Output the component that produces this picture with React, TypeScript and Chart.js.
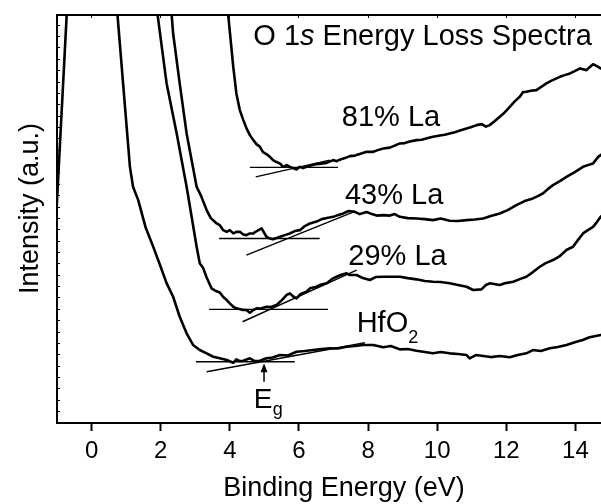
import React, { useEffect, useRef } from "react";
import { Chart, registerables } from "chart.js";

Chart.register(...registerables);

const FONT = '"Liberation Sans", Arial, Helvetica, sans-serif';

// ---- axes ----
const X_MIN = -1;
const X_MAX = 15;
const Y_MIN = 0;
const Y_MAX = 35.9;
const xTickValues = [0, 2, 4, 6, 8, 10, 12, 14];
const yTickValues = [0, 1, 2, 3, 4, 5, 6, 7, 8, 9, 10, 11, 12, 13, 14, 15, 16, 17, 18, 19, 20, 21, 22, 23, 24, 25, 26, 27, 28, 29, 30, 31, 32, 33, 34, 35];

// ---- spectra (binding energy eV, intensity a.u.) ----
const hfo2Energy = [-1.05, -0.7, -0.4, 0.0, 0.4, 0.68, 1.11, 1.2, 1.35, 1.57, 1.78, 1.98, 2.17, 2.36, 2.55, 2.75, 2.94, 3.13, 3.33, 3.52, 3.71, 3.91, 4.1, 4.19, 4.29, 4.39, 4.58, 4.72, 4.87, 5.06, 5.24, 5.45, 5.68, 5.93, 6.17, 6.41, 6.66, 6.89, 7.12, 7.38, 7.62, 7.86, 8.15, 8.44, 8.66, 8.92, 9.15, 9.4, 9.64, 9.88, 10.1, 10.36, 10.6, 10.85, 10.94, 11.12, 11.33, 11.55, 11.81, 12.1, 12.33, 12.58, 12.77, 13.0, 13.26, 13.49, 13.74, 14.03, 14.21, 14.41, 14.73, 15.0];
const hfo2Intensity = [16.61, 37.06, 60, 80, 60, 38.5, 22.54, 20.78, 19.61, 17.15, 15.54, 13.9, 12.31, 11.11, 9.35, 7.89, 6.86, 6.42, 6.13, 5.83, 5.69, 5.54, 5.3, 5.6, 5.45, 5.48, 5.69, 5.45, 5.48, 5.69, 5.76, 5.98, 5.94, 6.27, 6.33, 6.42, 6.51, 6.57, 6.55, 6.71, 6.77, 6.86, 6.86, 6.66, 6.77, 6.48, 6.51, 6.36, 6.24, 6.13, 6.24, 6.13, 6.07, 5.98, 5.69, 5.98, 5.89, 5.8, 5.89, 5.78, 5.98, 6.13, 6.42, 6.33, 6.57, 6.68, 6.86, 7.15, 7.3, 7.54, 7.74, 7.9];

const la29Energy = [1.7, 1.8, 1.98, 2.17, 2.46, 2.75, 3.04, 3.13, 3.23, 3.33, 3.47, 3.6, 3.71, 3.81, 3.91, 4.0, 4.1, 4.19, 4.39, 4.48, 4.58, 4.68, 4.77, 4.9, 5.06, 5.19, 5.35, 5.48, 5.64, 5.74, 5.82, 5.93, 6.05, 6.22, 6.32, 6.51, 6.6, 6.8, 6.99, 7.09, 7.21, 7.38, 7.47, 7.67, 7.85, 8.05, 8.22, 8.44, 8.63, 8.92, 9.15, 9.4, 9.64, 9.88, 10.1, 10.36, 10.6, 10.85, 11.04, 11.28, 11.41, 11.52, 11.81, 11.98, 12.2, 12.39, 12.58, 12.77, 12.97, 13.14, 13.35, 13.55, 13.74, 13.93, 14.07, 14.22, 14.36, 14.51, 14.62, 14.73, 15.0];
const la29Intensity = [45, 38.5, 34.3, 29.9, 25.51, 20.78, 15.51, 14.05, 13.63, 12.8, 11.85, 11.61, 11.48, 11.08, 10.82, 10.53, 10.23, 10.09, 9.94, 9.94, 9.7, 9.94, 10.09, 10.07, 10.23, 10.2, 10.38, 10.73, 11.26, 11.41, 11.17, 10.97, 11.35, 11.55, 11.85, 11.99, 12.14, 12.29, 12.73, 12.87, 13.02, 13.17, 13.02, 13.02, 12.75, 12.58, 12.84, 12.87, 12.87, 12.87, 12.75, 12.64, 12.49, 12.43, 12.4, 12.29, 12.14, 11.99, 11.7, 11.76, 12.14, 12.29, 12.14, 12.31, 12.43, 12.66, 12.87, 13.28, 13.75, 14.07, 14.34, 14.69, 15.22, 15.51, 16.09, 16.68, 16.97, 17.26, 17.68, 18.14, 19.0];

const la43Energy = [2.2, 2.25, 2.36, 2.55, 2.75, 3.04, 3.16, 3.33, 3.45, 3.62, 3.71, 3.81, 3.91, 4.0, 4.1, 4.19, 4.29, 4.39, 4.48, 4.58, 4.68, 4.78, 4.92, 5.06, 5.16, 5.25, 5.35, 5.45, 5.59, 5.74, 5.88, 6.03, 6.17, 6.32, 6.51, 6.66, 6.81, 6.99, 7.12, 7.28, 7.44, 7.62, 7.76, 7.96, 8.11, 8.25, 8.44, 8.63, 8.77, 8.92, 9.15, 9.4, 9.64, 9.88, 10.1, 10.36, 10.6, 10.85, 11.09, 11.33, 11.55, 11.81, 12.04, 12.29, 12.53, 12.77, 12.91, 13.06, 13.2, 13.35, 13.55, 13.74, 13.98, 14.22, 14.36, 14.51, 14.66, 14.73, 15.0];
const la43Intensity = [42, 38.5, 34.27, 29.88, 25.48, 20.78, 20.05, 18.73, 18.03, 17.56, 17.41, 16.97, 16.82, 16.97, 16.68, 16.82, 16.82, 16.58, 16.53, 16.68, 16.68, 16.89, 17.12, 16.39, 16.23, 16.16, 16.27, 16.39, 16.53, 16.68, 16.89, 16.97, 17.33, 17.56, 17.72, 17.94, 18.03, 18.14, 18.29, 18.44, 18.65, 18.58, 18.38, 18.56, 18.38, 18.25, 18.29, 18.25, 18.38, 18.14, 18.03, 18.0, 17.94, 17.85, 17.99, 17.79, 17.77, 17.85, 17.9, 18.0, 18.21, 18.44, 18.73, 19.17, 19.53, 19.76, 19.96, 20.2, 20.58, 20.93, 21.28, 21.66, 22.08, 22.54, 22.69, 22.84, 23.42, 23.57, 24.3];

const la81Energy = [3.8, 3.87, 4.1, 4.19, 4.29, 4.39, 4.48, 4.58, 4.68, 4.77, 4.87, 4.96, 5.06, 5.16, 5.25, 5.35, 5.45, 5.54, 5.65, 5.74, 5.83, 5.93, 6.03, 6.12, 6.22, 6.34, 6.51, 6.63, 6.8, 6.99, 7.1, 7.18, 7.33, 7.47, 7.62, 7.76, 7.96, 8.15, 8.28, 8.44, 8.63, 8.77, 8.92, 9.06, 9.21, 9.4, 9.55, 9.73, 9.88, 10.08, 10.22, 10.36, 10.51, 10.66, 10.85, 10.97, 11.14, 11.29, 11.41, 11.52, 11.66, 11.81, 11.96, 12.1, 12.25, 12.39, 12.48, 12.58, 12.71, 12.87, 13.0, 13.16, 13.34, 13.55, 13.69, 13.84, 13.98, 14.13, 14.32, 14.41, 14.51, 14.62, 14.73, 15.0];
const la81Intensity = [42, 38.5, 31.34, 29.0, 27.53, 26.65, 25.95, 25.33, 24.89, 24.54, 24.3, 23.83, 23.66, 23.42, 23.13, 22.96, 22.84, 22.54, 22.69, 22.54, 22.43, 22.31, 22.54, 22.43, 22.54, 22.65, 22.78, 22.82, 22.89, 23.13, 23.04, 23.17, 23.31, 23.48, 23.53, 23.66, 23.86, 23.86, 24.01, 24.16, 24.23, 24.41, 24.6, 24.63, 24.76, 24.89, 24.93, 25.07, 25.18, 25.29, 25.37, 25.48, 25.59, 25.73, 25.92, 26.03, 26.21, 26.3, 26.08, 26.21, 26.56, 26.94, 27.35, 27.82, 28.32, 28.7, 29.11, 29.14, 29.24, 29.29, 29.55, 29.88, 30.17, 30.46, 30.61, 30.76, 30.96, 31.2, 31.05, 31.31, 31.57, 31.4, 31.2, 31.5];

// ---- band-gap construction lines (baseline + onset tangent) ----
const hfo2BaseX = [3.02, 5.88];
const hfo2BaseY = [5.39, 5.39];
const hfo2TanX = [3.33, 7.91];
const hfo2TanY = [4.51, 7.06];
const la29BaseX = [3.4, 6.84];
const la29BaseY = [10.0, 10.0];
const la29TanX = [4.37, 7.67];
const la29TanY = [8.91, 13.46];
const la43BaseX = [3.69, 6.6];
const la43BaseY = [16.24, 16.24];
const la43TanX = [4.48, 7.62];
const la43TanY = [14.78, 18.62];
const la81BaseX = [4.58, 7.13];
const la81BaseY = [22.49, 22.49];
const la81TanX = [4.75, 6.89];
const la81TanY = [21.66, 23.13];

// Eg marker
const egEnergy = 4.99;
const egArrowFrom = 3.63;
const egArrowTo = 5.25;

function pts(xs: number[], ys: number[]) {
  const n = Math.min(xs.length, ys.length);
  const out: { x: number; y: number }[] = [];
  for (let i = 0; i < n; i++) out.push({ x: xs[i], y: ys[i] });
  return out;
}

const textPlugin = {
  id: "texts",
  afterDraw(chart: any) {
    const ctx: CanvasRenderingContext2D = chart.ctx;
    const xs = chart.scales.x;
    const ys = chart.scales.y;
    const X = (v: number) => xs.getPixelForValue(v);
    const Y = (v: number) => ys.getPixelForValue(v);
    const area = chart.chartArea;
    ctx.save();
    ctx.fillStyle = "#000";
    ctx.strokeStyle = "#000";
    ctx.textBaseline = "alphabetic";
    ctx.textAlign = "left";

    // Title inside plot
    let px = X(4.68);
    const py = Y(33.26);
    ctx.font = `29px ${FONT}`;
    ctx.fillText("O 1", px, py);
    px += ctx.measureText("O 1").width;
    ctx.font = `italic 29px ${FONT}`;
    ctx.fillText("s", px, py);
    px += ctx.measureText("s").width;
    ctx.font = `29px ${FONT}`;
    ctx.fillText(" Energy Loss Spectra", px, py);

    // Series labels
    ctx.font = `29px ${FONT}`;
    ctx.fillText("81% La", X(7.24), Y(26.13));
    ctx.fillText("43% La", X(7.33), Y(19.27));
    ctx.fillText("29% La", X(7.43), Y(13.9));
    const hx = X(7.67);
    const hy = Y(8.03);
    ctx.fillText("HfO", hx, hy);
    const hw = ctx.measureText("HfO").width;
    ctx.font = `18px ${FONT}`;
    ctx.fillText("2", hx + hw, hy + 11);

    // Eg arrow
    const ax = X(egEnergy);
    const ay0 = Y(egArrowFrom);
    const ay1 = Y(egArrowTo);
    ctx.lineWidth = 1.5;
    ctx.beginPath();
    ctx.moveTo(ax, ay0);
    ctx.lineTo(ax, ay1 + 6);
    ctx.stroke();
    ctx.beginPath();
    ctx.moveTo(ax, ay1);
    ctx.lineTo(ax - 3.5, ay1 + 9);
    ctx.lineTo(ax + 3.5, ay1 + 9);
    ctx.closePath();
    ctx.fill();

    ctx.font = `28px ${FONT}`;
    const ew = ctx.measureText("E").width;
    const ex = ax - ew / 2 - 1;
    const ey = Y(1.36);
    ctx.fillText("E", ex, ey);
    ctx.font = `18px ${FONT}`;
    ctx.fillText("g", ex + ew + 0.5, ey + 7);

    // Axis titles
    ctx.font = `27px ${FONT}`;
    ctx.textAlign = "center";
    ctx.fillText("Binding Energy (eV)", 344, 496);
    ctx.save();
    ctx.translate(37.5, (area.top + area.bottom) / 2 - 10.5);
    ctx.rotate(-Math.PI / 2);
    ctx.fillText("Intensity (a.u.)", 0, 0);
    ctx.restore();

    ctx.restore();
  },
};

export default function App() {
  const ref = useRef<HTMLCanvasElement>(null);

  useEffect(() => {
    const canvas = ref.current;
    if (!canvas) return;
    const curve = (label: string, xs: number[], ys: number[]) => ({
      label,
      data: pts(xs, ys),
      borderColor: "#000",
      backgroundColor: "#000",
      borderWidth: 2.6,
      pointRadius: 0,
      tension: 0,
      fill: false,
      xAxisID: "x",
      yAxisID: "y",
      borderJoinStyle: "round" as const,
    });
    const guide = (label: string, xs: number[], ys: number[]) => ({
      label,
      data: pts(xs, ys),
      borderColor: "#000",
      backgroundColor: "#000",
      borderWidth: 1.4,
      pointRadius: 0,
      tension: 0,
      fill: false,
      xAxisID: "x",
      yAxisID: "y",
    });

    const chart = new Chart(canvas, {
      type: "line",
      data: {
        datasets: [
          curve("HfO2", hfo2Energy, hfo2Intensity),
          curve("29% La", la29Energy, la29Intensity),
          curve("43% La", la43Energy, la43Intensity),
          curve("81% La", la81Energy, la81Intensity),
          guide("HfO2 base", hfo2BaseX, hfo2BaseY),
          guide("HfO2 onset", hfo2TanX, hfo2TanY),
          guide("29% base", la29BaseX, la29BaseY),
          guide("29% onset", la29TanX, la29TanY),
          guide("43% base", la43BaseX, la43BaseY),
          guide("43% onset", la43TanX, la43TanY),
          guide("81% base", la81BaseX, la81BaseY),
          guide("81% onset", la81TanX, la81TanY),
        ] as any,
      },
      options: {
        responsive: false,
        animation: false,
        devicePixelRatio: 1,
        events: [],
        layout: { padding: { top: 15, right: 2, left: 0, bottom: 0 } },
        plugins: {
          legend: { display: false },
          tooltip: { enabled: false },
          title: { display: false },
        },
        scales: {
          x: {
            type: "linear",
            position: "bottom",
            min: X_MIN,
            max: X_MAX,
            afterBuildTicks: (s: any) => {
              s.ticks = xTickValues.map((v) => ({ value: v }));
            },
            afterFit: (s: any) => {
              s.height = 81;
            },
            ticks: {
              color: "#000",
              font: { family: FONT, size: 24 },
              padding: 6,
              maxRotation: 0,
              autoSkip: false,
            },
            grid: {
              display: true,
              drawOnChartArea: false,
              drawTicks: true,
              tickLength: 8,
              tickWidth: 2,
              tickColor: "#000",
            },
            border: { display: true, color: "#000", width: 2 },
          },
          xTop: {
            type: "linear",
            position: "top",
            min: X_MIN,
            max: X_MAX,
            afterBuildTicks: (s: any) => {
              s.ticks = xTickValues.map((v) => ({ value: v }));
            },
            afterFit: (s: any) => {
              s.height = 0;
            },
            ticks: { display: false },
            grid: {
              display: true,
              drawOnChartArea: false,
              drawTicks: true,
              tickLength: -3,
              tickWidth: 1,
              tickColor: "#000",
            },
            border: { display: true, color: "#000", width: 2 },
          },
          y: {
            type: "linear",
            position: "left",
            min: Y_MIN,
            max: Y_MAX,
            afterBuildTicks: (s: any) => {
              s.ticks = yTickValues.map((v) => ({ value: v }));
            },
            afterFit: (s: any) => {
              s.width = 57;
            },
            ticks: { display: false },
            grid: {
              display: true,
              drawOnChartArea: false,
              drawTicks: true,
              tickLength: -3,
              tickWidth: 1,
              tickColor: "#000",
            },
            border: { display: true, color: "#000", width: 2 },
          },
        },
      } as any,
      plugins: [textPlugin],
    });
    return () => chart.destroy();
  }, []);

  return (
    <div
      style={{
        position: "fixed",
        left: 0,
        top: 0,
        width: 601,
        height: 504,
        overflow: "hidden",
        background: "#fff",
      }}
    >
      <canvas
        ref={ref}
        width={612}
        height={504}
        style={{ display: "block", width: 612, height: 504 }}
      />
    </div>
  );
}
